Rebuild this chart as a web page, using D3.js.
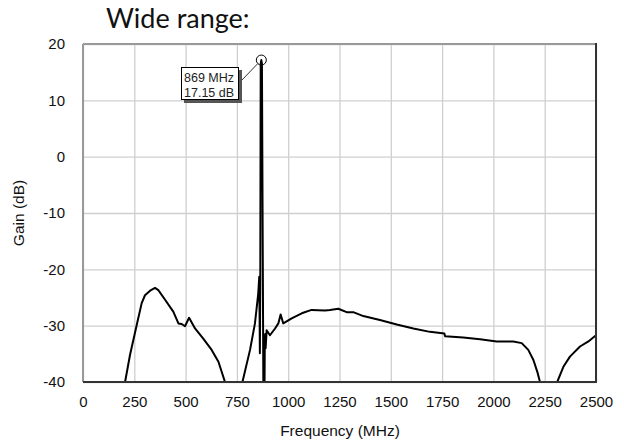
<!DOCTYPE html>
<html><head><meta charset="utf-8">
<script src="https://cdn.jsdelivr.net/npm/d3@7/dist/d3.min.js"></script>
<style>body{margin:0;background:#fff;}svg{display:block;}</style>
</head><body>
<script>
const titleText = "Wide range:";
const xTicks = [0,250,500,750,1000,1250,1500,1750,2000,2250,2500];
const yTicks = [-40,-30,-20,-10,0,10,20];
const markerFreq = 869;
const markerGain = 17.15;
const markerLabels = ["869 MHz","17.15 dB"];

const freq = [150,205,229,261,286,302,327,351,367,400,440,465,481,497,517,546,586,627,660,692,720,760,777,814,838,854,859,862,864,866,869,872,880,883,886,888,890,895,911,936,952,963,976,1017,1066,1114,1179,1204,1244,1285,1317,1366,1447,1529,1610,1691,1761,1765,1853,1935,2016,2097,2138,2170,2195,2214,2227,2260,2290,2311,2341,2373,2422,2463,2500];
const gain = [-55,-40,-35.2,-30.0,-26.0,-24.6,-23.8,-23.3,-23.7,-25.4,-27.5,-29.6,-29.7,-30.1,-28.6,-30.5,-32.3,-34.3,-36.4,-40,-50,-50,-40,-34.3,-29.6,-24.3,-21.3,-34.9,-22,16.5,17.15,16.5,-50,-50,-33,-31.5,-34,-30.8,-31.7,-30.5,-29.6,-28.0,-29.6,-28.7,-27.8,-27.2,-27.3,-27.2,-27.0,-27.6,-27.6,-28.3,-29.0,-29.8,-30.5,-31.1,-31.4,-31.9,-32.1,-32.4,-32.8,-32.8,-33.1,-34.3,-36.1,-38.2,-40,-50,-50,-40,-37.3,-35.5,-33.7,-32.8,-31.7];

const W=624,H=443;
const m={l:83,t:44,r:596,b:382};
const svg=d3.select("body").append("svg").attr("width",W).attr("height",H);
const x=d3.scaleLinear().domain([0,2500]).range([m.l,m.r]);
const y=d3.scaleLinear().domain([-40,20]).range([m.b,m.t]);
const fmt=d=>String(d);

svg.append("text").attr("x",106).attr("y",28).attr("font-family","Lato, 'Open Sans', sans-serif")
  .attr("font-size",27).attr("fill","#111").text(titleText);

// grid
const gx=svg.append("g").attr("transform",`translate(0,${m.b})`)
  .call(d3.axisBottom(x).tickValues(xTicks).tickSize(-(m.b-m.t)).tickFormat(""));
gx.select(".domain").remove();
gx.selectAll("line").attr("stroke","#cfcfcf").attr("stroke-width",1.3);
const gy=svg.append("g").attr("transform",`translate(${m.l},0)`)
  .call(d3.axisLeft(y).tickValues(yTicks).tickSize(-(m.r-m.l)).tickFormat(""));
gy.select(".domain").remove();
gy.selectAll("line").attr("stroke","#cfcfcf").attr("stroke-width",1.3);

// tick labels
const ax=svg.append("g").attr("transform",`translate(0,${m.b})`)
  .call(d3.axisBottom(x).tickValues(xTicks).tickSize(0).tickPadding(14).tickFormat(fmt));
ax.select(".domain").remove();
ax.selectAll("text").attr("font-family","'Liberation Sans', Arial, sans-serif").attr("font-size",15).attr("fill","#111");
const ay=svg.append("g").attr("transform",`translate(${m.l},0)`)
  .call(d3.axisLeft(y).tickValues(yTicks).tickSize(0).tickPadding(18).tickFormat(fmt));
ay.select(".domain").remove();
ay.selectAll("text").attr("font-family","'Liberation Sans', Arial, sans-serif").attr("font-size",15).attr("fill","#111");

svg.append("text").attr("x",340).attr("y",436).attr("text-anchor","middle")
  .attr("font-family","'Liberation Sans', Arial, sans-serif").attr("font-size",15.5).attr("fill","#111").text("Frequency (MHz)");
svg.append("text").attr("transform","translate(24,213) rotate(-90)").attr("text-anchor","middle")
  .attr("font-family","'Liberation Sans', Arial, sans-serif").attr("font-size",15.5).attr("fill","#111").text("Gain (dB)");

// clip
svg.append("clipPath").attr("id","clip").append("rect").attr("x",m.l).attr("y",m.t-10).attr("width",m.r-m.l).attr("height",m.b-m.t+10);
const data=freq.map((f,i)=>({f,g:gain[i]}));
svg.append("path").datum(data).attr("clip-path","url(#clip)")
  .attr("d",d3.line().x(d=>x(d.f)).y(d=>y(d.g)))
  .attr("fill","none").attr("stroke","#000").attr("stroke-width",2).attr("stroke-linejoin","round");

// frame
svg.append("line").attr("x1",m.l).attr("x2",m.r).attr("y1",m.t).attr("y2",m.t).attr("stroke","#999").attr("stroke-width",2);
svg.append("line").attr("x1",m.l).attr("x2",m.l).attr("y1",m.t).attr("y2",m.b).attr("stroke","#999").attr("stroke-width",2);
svg.append("line").attr("x1",m.l).attr("x2",m.r+1).attr("y1",m.b).attr("y2",m.b).attr("stroke","#333").attr("stroke-width",2);
svg.append("line").attr("x1",m.r).attr("x2",m.r).attr("y1",m.t-1).attr("y2",m.b).attr("stroke","#333").attr("stroke-width",2);

// marker
const mx=x(markerFreq), my=y(markerGain);
svg.append("circle").attr("cx",mx).attr("cy",my).attr("r",5).attr("fill","none").attr("stroke","#000").attr("stroke-width",1);
svg.append("line").attr("x1",mx-3.5).attr("y1",my+3.5).attr("x2",241).attr("y2",81).attr("stroke","#333").attr("stroke-width",1);
svg.append("rect").attr("x",184).attr("y",70).attr("width",58).attr("height",33).attr("fill","#555");
svg.append("rect").attr("x",181.5).attr("y",67.5).attr("width",57).attr("height",32).attr("fill","#fff").attr("stroke","#000").attr("stroke-width",1);
svg.selectAll(".ml").data(markerLabels).join("text").attr("x",184).attr("y",(d,i)=>82+i*15)
  .attr("font-family","'Liberation Sans', Arial, sans-serif").attr("font-size",12.5).attr("fill","#222").text(d=>d);
</script>
</body></html>
